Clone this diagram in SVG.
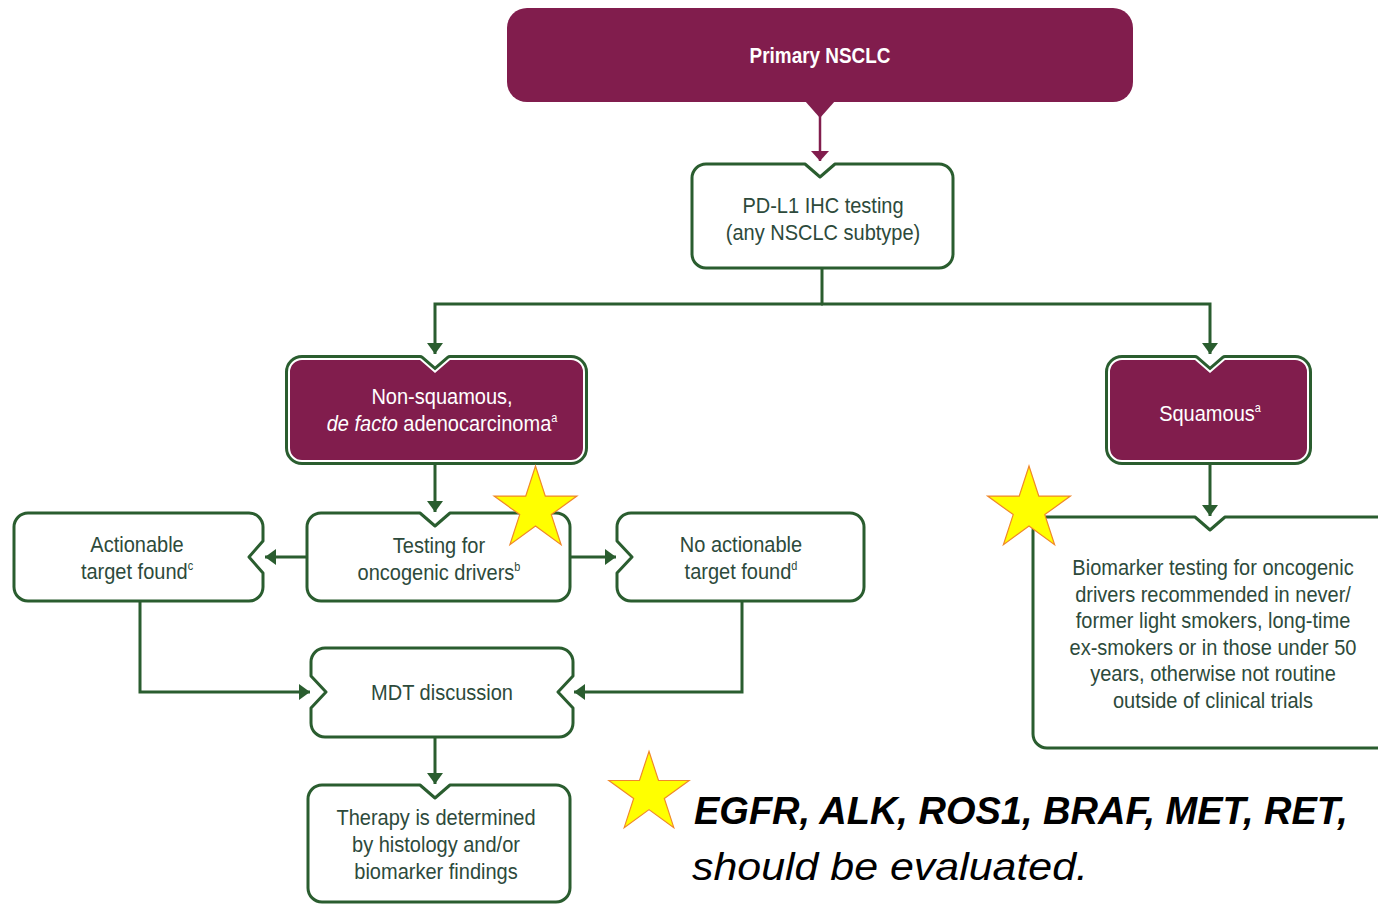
<svg xmlns="http://www.w3.org/2000/svg" width="1378" height="904" viewBox="0 0 1378 904">
<style>
.box{fill:#fff;stroke:#2a5d2f;stroke-width:3;stroke-linejoin:round}
.pbo{fill:none;stroke:#2a5d2f;stroke-width:10;stroke-linejoin:round}
.pbw{fill:none;stroke:#fff;stroke-width:4;stroke-linejoin:round}
.pbf{fill:#811d4d;stroke:none}
.t{font-family:"Liberation Sans",Arial,sans-serif;font-size:22px;fill:#2d4a3b;text-anchor:middle}
.tw{font-family:"Liberation Sans",Arial,sans-serif;font-size:22px;fill:#fff;text-anchor:middle}
.sup{font-size:12px}
.con{fill:none;stroke:#2a5d2f;stroke-width:3;marker-end:url(#ag)}
.star{fill:#ffff00;stroke:#f0882a;stroke-width:1.2;stroke-linejoin:miter}
.note{font-family:"Liberation Sans",Arial,sans-serif;fill:#000;font-style:italic}
</style>
<defs>
<marker id="ag" markerUnits="userSpaceOnUse" markerWidth="12" markerHeight="18" refX="11" refY="9" orient="auto" viewBox="0 0 12 18">
<path d="M0,1 L11,9 L0,17 Z" fill="#2a5d2f"/>
</marker>
<marker id="ap" markerUnits="userSpaceOnUse" markerWidth="12" markerHeight="20" refX="10" refY="10" orient="auto" viewBox="0 0 12 20">
<path d="M0,1 L10,10 L0,19 Z" fill="#811d4d"/>
</marker>
<path id="starp" d="M0,-43.5 L9.8,-13.4 L41.4,-13.4 L15.8,5.1 L25.6,35.2 L0,16.6 L-25.6,35.2 L-15.8,5.1 L-41.4,-13.4 L-9.8,-13.4 Z"/>
</defs>
<rect width="1378" height="904" fill="#fff"/>

<g id="connectors">
<polygon points="805,101 835,101 820,118" fill="#811d4d"/>
<path d="M820,112 V161" fill="none" stroke="#811d4d" stroke-width="2.5" marker-end="url(#ap)"/>
<path d="M822,268 V304" fill="none" stroke="#2a5d2f" stroke-width="3"/>
<path class="con" d="M823,304 H435 V354"/>
<path class="con" d="M821,304 H1210 V354"/>
<path class="con" d="M435,465 V512"/>
<path class="con" d="M307,557 H265"/>
<path class="con" d="M570,557 H616"/>
<path class="con" d="M140,601 V692 H310"/>
<path class="con" d="M742,601 V692 H574"/>
<path class="con" d="M435,737 V784"/>
<path class="con" d="M1210,465 V516"/>
</g>

<g id="primary">
<rect x="507" y="8" width="626" height="94" rx="20" fill="#811d4d"/>
<text class="tw" transform="translate(820 0) scale(0.86 1)" font-weight="bold" x="0" y="63">Primary NSCLC</text>
</g>

<g id="pdl1">
<path class="box" d="M706,164 H805 L820,177 L835,164 H939 A14,14 0 0 1 953,178 V254 A14,14 0 0 1 939,268 H706 A14,14 0 0 1 692,254 V178 A14,14 0 0 1 706,164 Z"/>
<text class="t" transform="translate(823 0) scale(0.91 1)"><tspan x="0" y="213">PD-L1 IHC testing</tspan><tspan x="0" y="240">(any NSCLC subtype)</tspan></text>
</g>

<g id="nonsquamous">
<path class="pbo" d="M302,360 H420 L435,373 L450,360 H571 A12,12 0 0 1 583,372 V448 A12,12 0 0 1 571,460 H302 A12,12 0 0 1 290,448 V372 A12,12 0 0 1 302,360 Z"/>
<path class="pbw" d="M302,360 H420 L435,373 L450,360 H571 A12,12 0 0 1 583,372 V448 A12,12 0 0 1 571,460 H302 A12,12 0 0 1 290,448 V372 A12,12 0 0 1 302,360 Z"/>
<path class="pbf" d="M302,360 H420 L435,373 L450,360 H571 A12,12 0 0 1 583,372 V448 A12,12 0 0 1 571,460 H302 A12,12 0 0 1 290,448 V372 A12,12 0 0 1 302,360 Z"/>
<text class="tw" transform="translate(442 0) scale(0.91 1)"><tspan x="0" y="404">Non-squamous,</tspan><tspan x="0" y="431"><tspan font-style="italic">de facto</tspan> adenocarcinoma<tspan class="sup" dy="-9">a</tspan></tspan></text>
</g>

<g id="squamous">
<path class="pbo" d="M1122,360 H1195 L1210,373 L1225,360 H1295 A12,12 0 0 1 1307,372 V448 A12,12 0 0 1 1295,460 H1122 A12,12 0 0 1 1110,448 V372 A12,12 0 0 1 1122,360 Z"/>
<path class="pbw" d="M1122,360 H1195 L1210,373 L1225,360 H1295 A12,12 0 0 1 1307,372 V448 A12,12 0 0 1 1295,460 H1122 A12,12 0 0 1 1110,448 V372 A12,12 0 0 1 1122,360 Z"/>
<path class="pbf" d="M1122,360 H1195 L1210,373 L1225,360 H1295 A12,12 0 0 1 1307,372 V448 A12,12 0 0 1 1295,460 H1122 A12,12 0 0 1 1110,448 V372 A12,12 0 0 1 1122,360 Z"/>
<text class="tw" transform="translate(1210 0) scale(0.91 1)"><tspan x="0" y="421">Squamous<tspan class="sup" dy="-9">a</tspan></tspan></text>
</g>

<g id="actionable">
<path class="box" d="M28,513 H249 A14,14 0 0 1 263,527 V541 L249,557 L263,573 V587 A14,14 0 0 1 249,601 H28 A14,14 0 0 1 14,587 V527 A14,14 0 0 1 28,513 Z"/>
<text class="t" transform="translate(137 0) scale(0.91 1)"><tspan x="0" y="552">Actionable</tspan><tspan x="0" y="579">target found<tspan class="sup" dy="-9">c</tspan></tspan></text>
</g>

<g id="testing">
<path class="box" d="M321,513 H420 L435,526 L450,513 H556 A14,14 0 0 1 570,527 V587 A14,14 0 0 1 556,601 H321 A14,14 0 0 1 307,587 V527 A14,14 0 0 1 321,513 Z"/>
<text class="t" transform="translate(439 0) scale(0.91 1)"><tspan x="0" y="553">Testing for</tspan><tspan x="0" y="580">oncogenic drivers<tspan class="sup" dy="-9">b</tspan></tspan></text>
</g>

<g id="noactionable">
<path class="box" d="M631,513 H850 A14,14 0 0 1 864,527 V587 A14,14 0 0 1 850,601 H631 A14,14 0 0 1 617,587 V573 L632,557 L617,541 V527 A14,14 0 0 1 631,513 Z"/>
<text class="t" transform="translate(741 0) scale(0.91 1)"><tspan x="0" y="552">No actionable</tspan><tspan x="0" y="579">target found<tspan class="sup" dy="-9">d</tspan></tspan></text>
</g>

<g id="mdt">
<path class="box" d="M325,648 H559 A14,14 0 0 1 573,662 V676 L558,692 L573,708 V723 A14,14 0 0 1 559,737 H325 A14,14 0 0 1 311,723 V708 L326,692 L311,676 V662 A14,14 0 0 1 325,648 Z"/>
<text class="t" transform="translate(442 0) scale(0.91 1)" x="0" y="700">MDT discussion</text>
</g>

<g id="therapy">
<path class="box" d="M322,785 H420 L435,798 L450,785 H556 A14,14 0 0 1 570,799 V888 A14,14 0 0 1 556,902 H322 A14,14 0 0 1 308,888 V799 A14,14 0 0 1 322,785 Z"/>
<text class="t" transform="translate(436 0) scale(0.91 1)"><tspan x="0" y="825">Therapy is determined</tspan><tspan x="0" y="852">by histology and/or</tspan><tspan x="0" y="879">biomarker findings</tspan></text>
</g>

<g id="biomarker">
<path class="box" d="M1047,517 H1195 L1210,530 L1225,517 H1400 V748 H1047 A14,14 0 0 1 1033,734 V531 A14,14 0 0 1 1047,517 Z"/>
<text class="t" transform="translate(1213 0) scale(0.91 1)"><tspan x="0" y="575">Biomarker testing for oncogenic</tspan><tspan x="0" y="601.6">drivers recommended in never/</tspan><tspan x="0" y="628.2">former light smokers, long-time</tspan><tspan x="0" y="654.8">ex-smokers or in those under 50</tspan><tspan x="0" y="681.4">years, otherwise not routine</tspan><tspan x="0" y="708">outside of clinical trials</tspan></text>
</g>

<g id="stars">
<use href="#starp" class="star" transform="translate(535.5 509.5)"/>
<use href="#starp" class="star" transform="translate(1029 509.5)"/>
<use href="#starp" class="star" transform="translate(649 793.5) scale(0.97)"/>
</g>

<g id="note">
<text class="note" font-weight="bold" font-size="38" x="694" y="824">EGFR, ALK, ROS1, BRAF, MET, RET,</text>
<text class="note" font-size="39" x="692" y="880" textLength="396" lengthAdjust="spacingAndGlyphs">should be evaluated.</text>
</g>
</svg>
